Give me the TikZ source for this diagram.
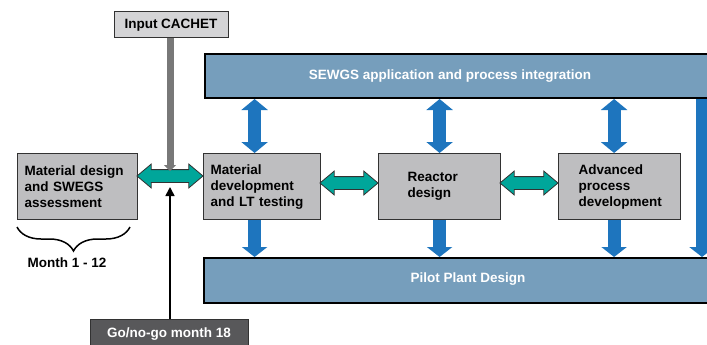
\documentclass[tikz,border=0pt]{standalone}
\usepackage{fontspec}
\setmainfont{Liberation Sans}
\usetikzlibrary{arrows.meta,shapes.arrows,decorations.pathreplacing,calc}
\definecolor{barblue}{RGB}{118,158,188}
\definecolor{arrowblue}{RGB}{30,117,190}
\definecolor{boxgray}{RGB}{190,190,192}
\definecolor{lightbox}{RGB}{212,212,214}
\definecolor{gobox}{RGB}{88,88,90}
\definecolor{tealc}{RGB}{0,166,154}
\definecolor{edgec}{RGB}{50,50,50}
\definecolor{arrowgray}{RGB}{120,120,120}
\begin{document}
\begin{tikzpicture}[x=1pt,y=-1pt,
  font=\fontsize{13.5}{16}\selectfont\bfseries,
  box/.style={draw=edgec, line width=1.2pt, fill=boxgray, inner sep=7pt, align=left, minimum height=66pt, anchor=north west},
  bar/.style={draw=black, line width=2pt, fill=barblue, inner sep=0pt, anchor=north west},
  barlabel/.style={text=white},
  bluedbl/.style={line width=13pt, draw=arrowblue, {Triangle[width=26pt,length=11pt]}-{Triangle[width=26pt,length=11pt]}},
  bluearr/.style={line width=13pt, draw=arrowblue, -{Triangle[width=25pt,length=10pt]}},
  tealarr/.style={double arrow, draw=edgec, line width=0.8pt, fill=tealc, inner xsep=0pt, inner ysep=6pt, double arrow head extend=5.5pt, double arrow tip angle=80},
]
\useasboundingbox (0,0) rectangle (707,345);
\clip (0,0) rectangle (707,345);

% bars
\node[bar, minimum width=540pt, minimum height=44pt] (sewgs) at (204,53) {};
\node[barlabel] (sewgslbl) at (450,76) {SEWGS application and process integration};
\node[bar, minimum width=540pt, minimum height=45pt] (pilot) at (203,257) {};
\node[barlabel] (pilotlbl) at (468,279) {Pilot Plant Design};

% boxes
\node[box, text width=106pt] (md) at (17,153) {Material design\\and SWEGS\\assessment};
\node[box, text width=103pt] (mdev) at (203,153) {Material\\development\\and LT testing};
\node[box, text width=64pt, inner xsep=29pt] (rd) at (378,153) {Reactor\\design};
\node[box, text width=82pt, inner xsep=20pt] (apd) at (558,153) {Advanced\\process\\development};

% input / go boxes
\node[draw=edgec, line width=1pt, fill=lightbox, minimum width=114pt, minimum height=26pt, inner sep=0pt] (cachet) at (171,25) {Input CACHET};
\node[draw=edgec, line width=1pt, fill=gobox, text=white, minimum width=158pt, minimum height=30pt, inner sep=0pt] (go) at (169,334) {Go/no-go month 18};

% blue vertical arrows
\coordinate (c1) at ($(mdev.north)+(-7.5,0)$);
\coordinate (c2) at ($(rd.north)+(0,0)$);
\coordinate (c3) at ($(apd.north)+(-5.5,0)$);
\coordinate (c4) at (702,0);
\draw[bluedbl] (c1 |- sewgs.south) -- (c1 |- mdev.north);
\draw[bluedbl] (c2 |- sewgs.south) -- (c2 |- rd.north);
\draw[bluedbl] (c3 |- sewgs.south) -- (c3 |- apd.north);
\draw[bluearr] (c1 |- mdev.south) -- (c1 |- pilot.north);
\draw[bluearr] (c2 |- rd.south) -- (c2 |- pilot.north);
\draw[bluearr] (c3 |- apd.south) -- (c3 |- pilot.north);
\draw[bluearr] (c4 |- sewgs.south) -- (c4 |- pilot.north);

% teal arrows
\node[tealarr, minimum height=66pt] (t1) at (170,176) {};
\node[tealarr, minimum height=58pt] (t2) at (349,183) {};
\node[tealarr, minimum height=58pt] (t3) at (529,183) {};

% input and go arrows
\coordinate (gin) at (170,171);
\coordinate (goin) at (170,187);
\draw[line width=7pt, arrowgray, -{Triangle[width=12pt,length=6pt]}] (cachet.south -| gin) -- (gin);
\draw[line width=1.6pt, black, -{Triangle[width=9pt,length=9pt]}] (go.north -| goin) -- (goin);

% brace
\coordinate (b1) at (17,227);
\coordinate (b2) at (130,227);
\draw[decorate, decoration={brace, mirror, amplitude=24pt}, line width=1.5pt] (b1) -- (b2);
\node (month) at (67,263) {Month 1 - 12};
\end{tikzpicture}
\end{document}
